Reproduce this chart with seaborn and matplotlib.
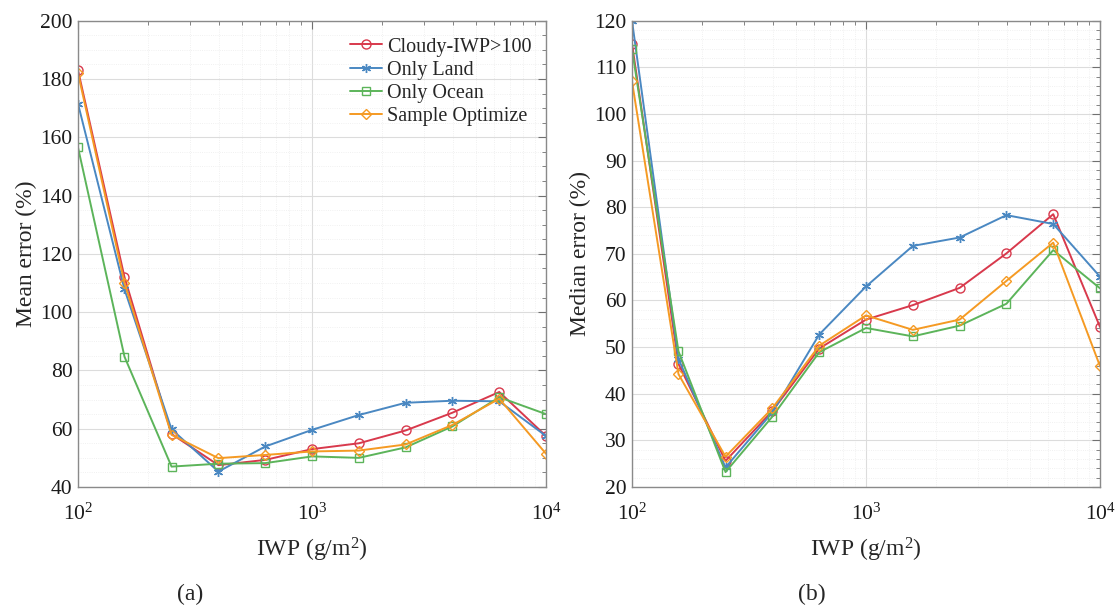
import numpy as np
import pandas as pd
import seaborn as sns
import matplotlib
matplotlib.use('Agg')
import matplotlib.pyplot as plt
from matplotlib.ticker import MultipleLocator, LogLocator, NullFormatter

# IWP bins (g/m2)
iwp = [100, 158, 251, 398, 631, 1000, 1585, 2512, 3981, 6310, 10000]

# (a) mean error (%)
mean_cloudy = [183, 112, 58.2, 47.5, 49.3, 53, 55, 59.4, 65.5, 72.6, 57.5]
mean_land = [171.5, 107.8, 59.8, 45.3, 53.9, 59.6, 64.7, 68.9, 69.6, 69.4, 57.5]
mean_ocean = [156.5, 84.7, 47, 48, 48.2, 50.5, 50, 53.6, 60.8, 70.8, 65]
mean_sample = [182, 110, 57.9, 49.9, 51, 52.2, 52.5, 54.6, 61.3, 70.3, 51.4]

# (b) median error (%)
med_cloudy = [115.1, 46.4, 25.6, 36.3, 49.7, 55.9, 59, 62.7, 70.1, 78.5, 54.3]
med_land = [120, 47.5, 24.2, 36, 52.7, 63, 71.7, 73.5, 78.3, 76.4, 65.1]
med_ocean = [113.9, 49.1, 23.2, 35.1, 48.9, 54.1, 52.3, 54.6, 59.3, 70.8, 62.6]
med_sample = [107, 44.2, 26.5, 36.9, 50.3, 56.8, 53.7, 55.9, 64.2, 72.4, 45.9]

names = ['Cloudy-IWP>100', 'Only Land', 'Only Ocean', 'Sample Optimize']
colors = ['#d8394c', '#4a88c2', '#5cb45a', '#f59a23']
marks = ['o', (6, 2, 0), 's', 'D']
msizes = [6.5, 6.5, 5.5, 5]

sns.set_theme(style="white")
plt.rcParams['font.family'] = ['Liberation Serif', 'DejaVu Serif']
plt.rcParams['mathtext.fontset'] = 'custom'
plt.rcParams['mathtext.rm'] = 'Liberation Serif'
plt.rcParams['mathtext.it'] = 'Liberation Serif:italic'

fig = plt.figure(figsize=(11.16, 6.08), dpi=100)
ax1 = fig.add_axes([0.0699, 0.199, 0.4194, 0.767])
ax2 = fig.add_axes([0.5663, 0.199, 0.4194, 0.767])

panels = [
    (ax1, [mean_cloudy, mean_land, mean_ocean, mean_sample], (40, 200), 20, 5, 'Mean error (%)'),
    (ax2, [med_cloudy, med_land, med_ocean, med_sample], (20, 120), 10, 2, 'Median error (%)'),
]

for ax, series, ylim, major, minor, ylab in panels:
    for vals, name, c, m, ms in zip(series, names, colors, marks, msizes):
        df = pd.DataFrame({'IWP': iwp, 'err': vals})
        sns.lineplot(data=df, x='IWP', y='err', ax=ax, color=c, marker=m,
                     markersize=ms, markerfacecolor='none', markeredgecolor=c,
                     markeredgewidth=1.0, linewidth=1.4, label=name)
    ax.set_xscale('log')
    ax.set_xlim(100, 10000)
    ax.set_ylim(*ylim)
    ax.yaxis.set_major_locator(MultipleLocator(major))
    ax.yaxis.set_minor_locator(MultipleLocator(minor))
    ax.xaxis.set_major_locator(LogLocator(base=10))
    ax.xaxis.set_minor_locator(LogLocator(base=10, subs=np.arange(2, 10)))
    ax.xaxis.set_minor_formatter(NullFormatter())
    ax.grid(which='major', color='#dcdcdc', linewidth=0.8)
    ax.grid(which='minor', color='#ececec', linewidth=0.6, linestyle=':')
    ax.set_axisbelow(True)
    ax.tick_params(which='both', direction='in', top=True, right=True,
                   colors='#707070', labelcolor='#1a1a1a', labelsize=15.5)
    ax.tick_params(which='major', length=6, width=0.8, pad=4)
    ax.tick_params(axis='x', which='major', pad=12)
    ax.tick_params(which='minor', length=3, width=0.6)
    for sp in ax.spines.values():
        sp.set_color('#8a8a8a')
        sp.set_linewidth(1.0)
    ax.set_xlabel('IWP (g/m$\\mathregular{^2}$)', fontsize=17, labelpad=8)
    ax.set_ylabel(ylab, fontsize=17, labelpad=2)
    ax.get_legend().remove()

ax1.legend(loc='upper right', frameon=False, fontsize=14.5, handlelength=1.6,
           handletextpad=0.25, labelspacing=0.2, borderaxespad=0.2,
           bbox_to_anchor=(0.995, 0.99))

fig.text(0.170, 0.005, '(a)', fontsize=17, ha='center', va='bottom')
fig.text(0.727, 0.005, '(b)', fontsize=17, ha='center', va='bottom')

fig.savefig('out.png', dpi=100)
